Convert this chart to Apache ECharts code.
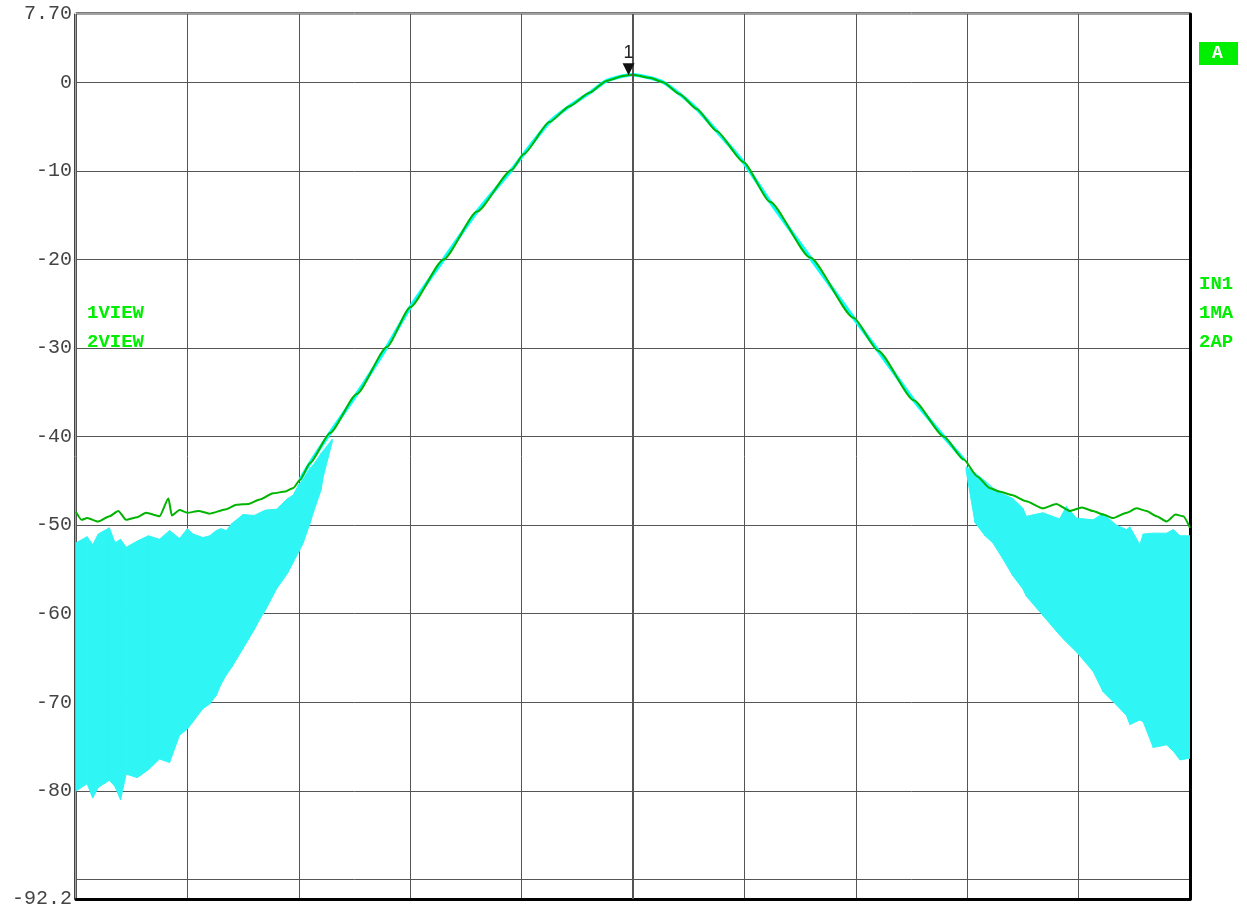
<!DOCTYPE html>
<html>
<head>
<meta charset="utf-8">
<script src="https://cdn.jsdelivr.net/npm/echarts@6/dist/echarts.min.js"></script>
<style>
  html, body { margin: 0; padding: 0; background: #fff; }
  #chart { width: 1247px; height: 909px; }
</style>
</head>
<body>
<div id="chart"></div>
<script>
// green trace (max hold), x in divisions*10, y in dB
const greenX = [0, 0.5, 1, 2, 3, 3.8, 4.5, 5.5, 6.3, 7.5, 8.3, 8.6, 9.3, 10, 11, 12, 13.5, 14.4, 15.5, 16.5, 17.7, 18.8, 19.5, 20.1,
  21.0, 22.8, 25.2, 27.9, 30.0, 33.0, 36.0, 39.1, 40.2, 42.5, 44.3, 46.1, 47.6, 49.1, 50.0, 51.5, 52.7, 54.2, 55.7, 57.5,
  59.9, 62.3, 65.9, 69.8, 72.0, 75.2, 77.9, 79.7, 80.9, 82.0, 82.9, 84.0, 85.3, 86.8, 88.0, 89.2, 90.3, 91.3, 92.2, 93.1,
  94.3, 95.2, 96.1, 97.0, 97.9, 98.7, 99.4, 100];
const greenY = [-48.5, -49.4, -49.2, -49.6, -49.0, -48.4, -49.4, -49.1, -48.6, -49.0, -47.0, -48.9, -48.3, -48.6, -48.4, -48.7, -48.2, -47.7, -47.6, -47.1, -46.4, -46.2, -45.8, -44.9,
  -43.0, -39.6, -35.2, -29.9, -25.4, -20.0, -14.6, -9.9, -8.1, -4.5, -2.7, -1.2, 0.15, 0.7, 0.85, 0.5, 0.0, -1.35, -3.0, -5.5,
  -9.0, -13.5, -19.8, -26.6, -30.3, -35.9, -40.0, -42.6, -44.5, -45.8, -46.2, -46.6, -47.3, -48.1, -47.6, -48.4, -48.0, -48.4, -48.8, -49.2,
  -48.6, -48.1, -48.4, -49.0, -49.6, -48.8, -49.0, -50.3];

// cyan trace: envelope (top / bottom) of the noisy skirts
const cyanLeftX = [0, 1, 1.5, 2, 3, 3.5, 4, 4.5, 5.5, 6.5, 7.5, 8.4, 9.3, 10, 10.5, 11.4, 12, 12.6, 13, 13.5, 14, 15, 16, 16.5, 17, 18, 19, 19.5, 20, 20.4, 21, 21.3, 22, 22.2, 23];
const cyanLeftTop = [-52.0, -51.3, -52.2, -51.0, -50.3, -52.0, -51.6, -52.5, -51.8, -51.2, -51.6, -50.6, -51.5, -50.4, -51.0, -51.4, -51.2, -50.6, -50.4, -50.6, -49.8, -48.8, -48.9, -48.6, -48.3, -48.2, -47.0, -46.6, -45.4, -44.8, -43.6, -43.2, -41.9, -41.6, -40.3];
const cyanLeftBot = [-80.0, -79.2, -80.8, -79.6, -78.8, -79.5, -81.0, -78.1, -78.5, -77.6, -76.4, -76.8, -73.7, -73.0, -72.2, -70.7, -70.2, -69.2, -68.0, -66.9, -66.0, -63.9, -61.8, -60.6, -59.6, -57.2, -55.4, -54.2, -53.0, -52.0, -49.8, -48.6, -46.0, -44.5, -40.6];
const cyanRightX = [79.9, 80.7, 81.6, 82.3, 83.2, 84.1, 85.0, 85.3, 86.8, 88.3, 88.9, 89.8, 91.3, 92.2, 93.4, 94.3, 94.6, 95.5, 95.8, 96.7, 97.9, 98.5, 99.1, 100];
const cyanRightTop = [-43.4, -44.1, -45.0, -45.8, -46.5, -47.0, -48.1, -49.0, -48.6, -49.3, -47.9, -49.2, -49.4, -48.7, -50.0, -50.5, -50.2, -52.2, -51.0, -50.9, -50.9, -50.5, -51.2, -51.2];
const cyanRightBot = [-43.8, -49.7, -51.2, -52.0, -53.8, -55.7, -57.2, -58.0, -60.2, -62.4, -63.2, -64.3, -66.5, -68.8, -70.3, -71.5, -72.5, -72.0, -72.2, -75.1, -74.8, -75.5, -76.5, -76.3];

// marker 1
const markerX = 49.6;
const markerY = 0.8;

// axis ticks and labels
const yGrid = [-90, -80, -70, -60, -50, -40, -30, -20, -10, 0];
const yLabels = [-92.2, -80, -70, -60, -50, -40, -30, -20, -10, 0, 7.7];
const yMin = -92.2;
const yMax = 7.7;

const zip = (xs, ys) => xs.map((x, i) => [x, ys[i]]);
const bandRows = (xs, top, bot) => xs.map((x, i) => [x, top[i], bot[i]]);

const chart = echarts.init(document.getElementById("chart"));

const monoFont = "Liberation Mono";
const green = "#00ee00";
const cyan = "#30f5f5";

// draws the band between consecutive envelope rows
function bandItem(params, api) {
  const i = params.dataIndexInside;
  if (i >= params.dataInsideLength - 1) return null;
  const x0 = api.value(0, i), t0 = api.value(1, i), b0 = api.value(2, i);
  const x1 = api.value(0, i + 1), t1 = api.value(1, i + 1), b1 = api.value(2, i + 1);
  return {
    type: "polygon",
    shape: {
      points: [api.coord([x0, t0]), api.coord([x1, t1]), api.coord([x1, b1]), api.coord([x0, b0])],
    },
    style: { fill: cyan, stroke: cyan, lineWidth: 1 },
    silent: true,
  };
}

const option = {
  backgroundColor: "#fff",
  animation: false,
  grid: {
    left: 76,
    right: 57,
    top: 14,
    bottom: 3,
    show: true,
    borderColor: "#444",
    borderWidth: 1,
  },
  xAxis: [
    {
      type: "value",
      min: 0,
      max: 100,
      interval: 10,
      axisLine: { show: true, onZero: false, lineStyle: { color: "#000", width: 3 } },
      axisTick: { show: false },
      axisLabel: { show: false },
      splitLine: { show: true, lineStyle: { color: "#555", width: 1 } },
    },
    {
      type: "value",
      position: "top",
      offset: 2,
      min: 0,
      max: 100,
      axisLine: { show: true, onZero: false, lineStyle: { color: "#777", width: 1 } },
      axisTick: { show: false },
      axisLabel: { show: false },
      splitLine: { show: false },
    },
  ],
  yAxis: [
    {
      type: "value",
      min: yMin,
      max: yMax,
      offset: 2,
      axisLine: { show: true, onZero: false, lineStyle: { color: "#444", width: 1 } },
      axisTick: { show: false, customValues: yGrid },
      splitLine: { show: true, lineStyle: { color: "#555", width: 1 } },
      axisLabel: {
        customValues: yLabels,
        margin: 2,
        fontFamily: monoFont,
        fontSize: 20,
        color: "#444",
        formatter: (v) => (v === 7.7 ? "7.70" : String(v)),
      },
    },
    {
      type: "value",
      position: "right",
      min: yMin,
      max: yMax,
      axisLine: { show: true, onZero: false, lineStyle: { color: "#000", width: 3 } },
      axisTick: { show: false },
      axisLabel: { show: false },
      splitLine: { show: false },
    },
  ],
  series: [
    {
      name: "cyanLeft",
      type: "custom",
      renderItem: bandItem,
      encode: { x: 0, y: [1, 2] },
      data: bandRows(cyanLeftX, cyanLeftTop, cyanLeftBot),
      clip: true,
      silent: true,
    },
    {
      name: "cyanRight",
      type: "custom",
      renderItem: bandItem,
      encode: { x: 0, y: [1, 2] },
      data: bandRows(cyanRightX, cyanRightTop, cyanRightBot),
      clip: true,
      silent: true,
    },
    {
      // cyan trace follows the green one through the main lobe
      name: "cyanMain",
      type: "line",
      data: zip(greenX, greenY).filter((p) => p[0] >= 20 && p[0] <= 80),
      symbol: "none",
      smooth: 0.2,
      lineStyle: { color: "#00ffff", width: 3.5 },
      silent: true,
    },
    {
      name: "green",
      type: "line",
      data: zip(greenX, greenY),
      symbol: "none",
      smooth: 0.2,
      smoothMonotone: "x",
      lineStyle: { color: "#00b400", width: 2 },
      silent: true,
      markLine: {
        silent: true,
        symbol: "none",
        label: { show: false },
        lineStyle: { color: "#555", width: 2, type: "solid" },
        data: [{ xAxis: 50 }],
      },
      markPoint: {
        symbol: "triangle",
        symbolRotate: 180,
        symbolSize: [12, 12],
        symbolOffset: [0, -6],
        itemStyle: { color: "#111" },
        label: {
          show: true,
          position: "top",
          distance: 1,
          formatter: "1",
          fontFamily: "Liberation Sans",
          fontSize: 18,
          color: "#222",
        },
        data: [{ coord: [markerX, markerY] }],
      },
    },
  ],
  graphic: [
    {
      type: "text",
      left: 87,
      top: 304,
      style: { text: "1VIEW", font: "bold 19px 'Liberation Mono'", fill: green },
    },
    {
      type: "text",
      left: 87,
      top: 333,
      style: { text: "2VIEW", font: "bold 19px 'Liberation Mono'", fill: green },
    },
    {
      type: "rect",
      left: 1199,
      top: 42,
      shape: { width: 39, height: 23 },
      style: { fill: "#00ee00" },
    },
    {
      type: "text",
      left: 1212,
      top: 44,
      style: { text: "A", font: "bold 18px 'Liberation Mono'", fill: "#fff" },
    },
    {
      type: "text",
      left: 1199,
      top: 275,
      style: { text: "IN1", font: "bold 19px 'Liberation Mono'", fill: green },
    },
    {
      type: "text",
      left: 1199,
      top: 304,
      style: { text: "1MA", font: "bold 19px 'Liberation Mono'", fill: green },
    },
    {
      type: "text",
      left: 1199,
      top: 333,
      style: { text: "2AP", font: "bold 19px 'Liberation Mono'", fill: green },
    },
  ],
};

chart.setOption(option);
</script>
</body>
</html>
